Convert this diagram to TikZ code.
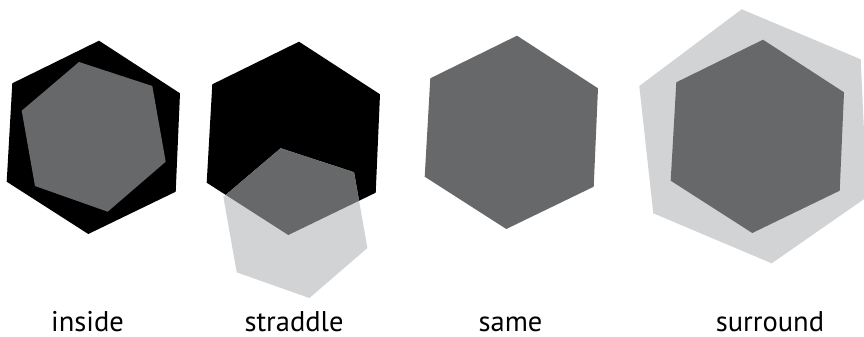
\documentclass[tikz,border=0pt]{standalone}
\usepackage{fontspec}
\setmainfont{PT Sans}
\definecolor{darkg}{RGB}{103,104,106}
\definecolor{lightg}{RGB}{209,211,212}
\begin{document}
\begin{tikzpicture}[x=1pt,y=-1pt,
  lbl/.style={font=\fontsize{28.5}{30}\selectfont, anchor=base, inner sep=0pt, text depth=0pt}]
\useasboundingbox (0,0) rectangle (864,337);
\def\hexH{(99,40.7) -- (180,93.3) -- (175.7,191.7) -- (88.3,234) -- (6.7,181.7) -- (12.3,83.3) -- cycle}
\def\hexG{(79,62) -- (152.3,86) -- (165.7,161.7) -- (107.7,211.7) -- (35,186) -- (21.7,110.7) -- cycle}
% inside
\fill[black] \hexH;
\fill[darkg] \hexG;
% straddle
\begin{scope}[shift={(200,1)}]
  \fill[black] \hexH;
\end{scope}
\begin{scope}[shift={(201.7,86.3)}]
  \fill[lightg] \hexG;
\end{scope}
\begin{scope}
  \begin{scope}[shift={(200,1)}]
    \clip \hexH;
    \begin{scope}[shift={(1.7,85.3)}]
      \fill[darkg] \hexG;
    \end{scope}
  \end{scope}
\end{scope}
% same
\begin{scope}[shift={(418,-5)}]
  \fill[darkg] \hexH;
\end{scope}
% surround
\fill[lightg] (741.7,9.3) -- (860.7,59.3) -- (867,197) -- (771.7,263.3) -- (653.3,213.3) -- (639.3,86) -- cycle;
\begin{scope}[shift={(664,-1)}]
  \fill[darkg] \hexH;
\end{scope}
% labels
\node[lbl] (linside) at (87.5,331) {inside};
\node[lbl] (lstraddle) at (294,331) {straddle};
\node[lbl] (lsame) at (510.5,331) {same};
\node[lbl] (lsurround) at (770,331) {surround};
\end{tikzpicture}
\end{document}
